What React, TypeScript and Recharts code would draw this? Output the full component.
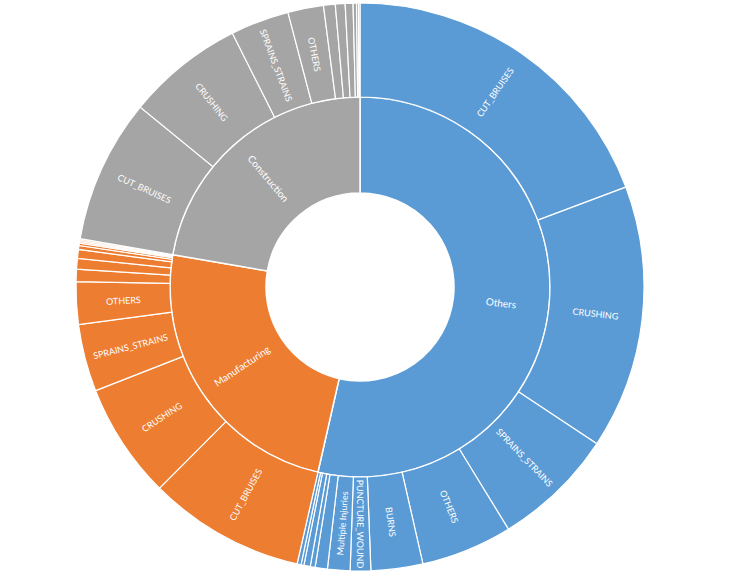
import { PieChart, Pie, Cell } from 'recharts';

const GROUPS = ['Others', 'Manufacturing', 'Construction'];

const GROUP_COLORS = [
  '#5B9BD5', // blue
  '#ED7D31', // orange
  '#A5A5A5', // gray
];

const othersNames = [
  'CUT_BRUISES', 'CRUSHING', 'SPRAINS_STRAINS', 'OTHERS', 'BURNS', 'PUNCTURE_WOUND',
  'Multiple Injuries', 'minor_1', 'minor_2', 'minor_3', 'minor_4', 'minor_5',
];
const othersValues = [694, 541, 250, 187, 106, 42, 46, 25, 10, 13, 6, 8];

const manufacturingNames = [
  'CUT_BRUISES', 'CRUSHING', 'SPRAINS_STRAINS', 'OTHERS', 'minor_1', 'minor_2',
  'minor_3', 'minor_4', 'minor_5', 'minor_6', 'minor_7', 'minor_8',
];
const manufacturingValues = [321, 237, 138, 87, 25, 22, 18, 8, 5, 3, 3, 3];

const constructionNames = [
  'CUT_BRUISES', 'CRUSHING', 'SPRAINS_STRAINS', 'OTHERS', 'minor_1', 'minor_2',
  'minor_3', 'minor_4', 'minor_5', 'minor_6',
];
const constructionValues = [295, 240, 120, 73, 24, 20, 16, 7, 4, 3];

// smallest slice that still gets a text label
const LABEL_MIN = 40;

const sum = (arr: number[]) => arr.reduce((s, v) => s + v, 0);

const innerData = [
  { name: GROUPS[0], value: sum(othersValues), group: 0 },
  { name: GROUPS[1], value: sum(manufacturingValues), group: 1 },
  { name: GROUPS[2], value: sum(constructionValues), group: 2 },
];

const outerData = [
  ...othersNames.map((n, i) => ({ name: n, value: othersValues[i], group: 0 })),
  ...manufacturingNames.map((n, i) => ({ name: n, value: manufacturingValues[i], group: 1 })),
  ...constructionNames.map((n, i) => ({ name: n, value: constructionValues[i], group: 2 })),
];

const RAD = Math.PI / 180;

// text runs along the radius, flipped so it never reads upside down
const makeLabel = (size: number) => (props: any) => {
  const { cx, cy, midAngle, innerRadius, outerRadius, name, value } = props;
  if (value < LABEL_MIN) return null;
  const r = (innerRadius + outerRadius) / 2;
  const x = cx + r * Math.cos(-midAngle * RAD);
  const y = cy + r * Math.sin(-midAngle * RAD);
  let rot = -midAngle;
  while (rot <= -180) rot += 360;
  while (rot > 180) rot -= 360;
  if (rot > 90) rot -= 180;
  if (rot <= -90) rot += 180;
  return (
    <text
      x={x}
      y={y}
      fill="#fff"
      fontSize={size}
      fontFamily="Lato, 'Open Sans', sans-serif"
      textAnchor="middle"
      dominantBaseline="central"
      transform={`rotate(${rot}, ${x}, ${y})`}
    >
      {name}
    </text>
  );
};

export default function App() {
  return (
    <div style={{ position: 'absolute', left: 0, top: 0, width: 739, height: 577, background: '#fff' }}>
      <PieChart width={739} height={577} margin={{ top: 0, right: 0, bottom: 0, left: 0 }}>
        <Pie
          data={innerData}
          dataKey="value"
          nameKey="name"
          cx={360}
          cy={287}
          innerRadius={94}
          outerRadius={190}
          startAngle={90}
          endAngle={-270}
          stroke="#fff"
          strokeWidth={1.5}
          label={makeLabel(10)}
          labelLine={false}
          isAnimationActive={false}
        >
          {innerData.map((d, i) => (
            <Cell key={`in-${i}`} fill={GROUP_COLORS[d.group]} />
          ))}
        </Pie>
        <Pie
          data={outerData}
          dataKey="value"
          nameKey="name"
          cx={360}
          cy={287}
          innerRadius={190}
          outerRadius={284}
          startAngle={90}
          endAngle={-270}
          stroke="#fff"
          strokeWidth={1.2}
          label={makeLabel(9)}
          labelLine={false}
          isAnimationActive={false}
        >
          {outerData.map((d, i) => (
            <Cell key={`out-${i}`} fill={GROUP_COLORS[d.group]} />
          ))}
        </Pie>
      </PieChart>
    </div>
  );
}
